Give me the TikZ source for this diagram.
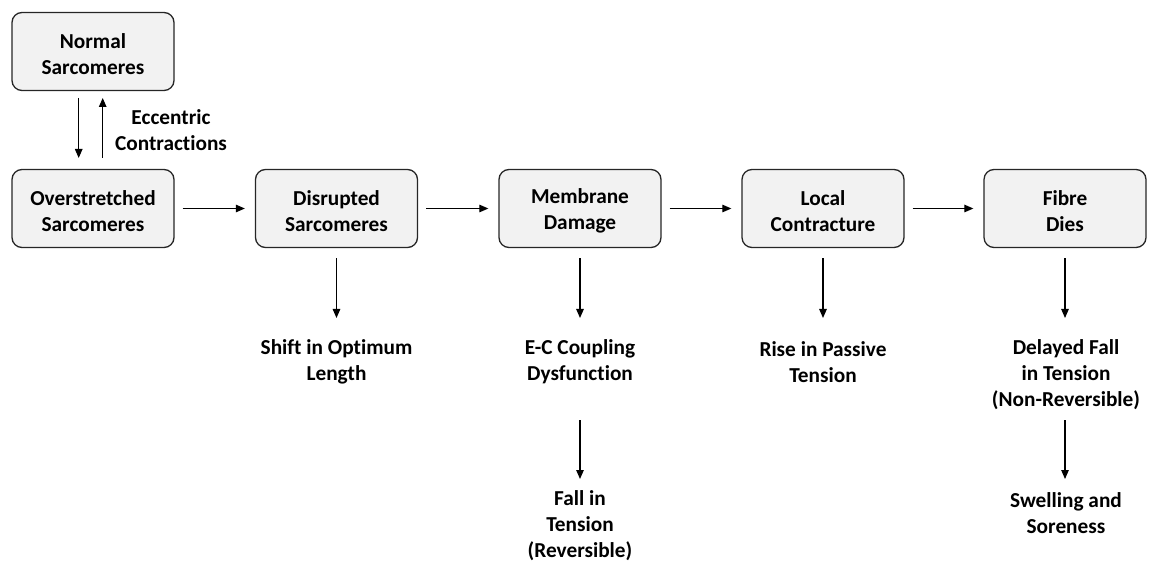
\documentclass[tikz,border=0pt]{standalone}
\usepackage{fontspec}
\setmainfont[Ligatures=NoCommon]{Carlito}
\usetikzlibrary{arrows.meta}
\begin{document}
\begin{tikzpicture}[x=1pt,y=-1pt,
  txt/.style={align=center,font=\fontsize{21.3}{26}\selectfont\bfseries},
  stage/.style={draw=black!85,line width=1.3pt,fill=black!5,rounded corners=10pt,
    minimum width=162pt,minimum height=78pt},
  inbox/.style={txt,yshift=-2.5pt},
  link/.style={line width=1.2pt,-{Triangle[length=9pt,width=7.5pt]}}]
\useasboundingbox (0,0) rectangle (1151,561);
% main chain of stages
\node[stage,label={[inbox]center:Normal\\Sarcomeres}] (normal) at (93,51.5) {};
\node[stage,label={[inbox]center:Overstretched\\Sarcomeres}] (over) at (93,208.5) {};
\node[stage,label={[inbox]center:Disrupted\\Sarcomeres}] (disr) at (336.5,208.5) {};
\node[stage,label={[inbox]center:Membrane\\Damage}] (memb) at (580,208.5) {};
\node[stage,label={[inbox]center:Local\\Contracture}] (local) at (823,208.5) {};
\node[stage,label={[inbox]center:Fibre\\Dies}] (fibre) at (1065,208.5) {};
% outcomes
\node[txt] (ecc) at (171,130) {Eccentric\\Contractions};
\node[txt] (shift) at (336.5,362) {Shift in Optimum\\Length};
\node[txt] (ec) at (580,362) {E-C Coupling\\Dysfunction};
\node[txt] (fall) at (580,526) {Fall in\\Tension\\(Reversible)};
\node[txt] (rise) at (823,362) {Rise in Passive\\Tension};
\node[txt] (delay) at (1066,375) {Delayed Fall\\in Tension\\(Non-Reversible)};
\node[txt] (swell) at (1066,513) {Swelling and\\Soreness};
% end points of the arrows
\coordinate (a1) at (78.7,98);  \coordinate (a2) at (78.7,158);
\coordinate (b1) at (102.7,158); \coordinate (b2) at (102.7,98);
\coordinate (d1) at (336.5,318);
\coordinate (d2) at (580,318);
\coordinate (d3) at (823,318);
\coordinate (d4) at (1065,318);
\coordinate (e1) at (580,420);  \coordinate (e2) at (580,479);
\coordinate (f1) at (1065,420); \coordinate (f2) at (1065,479);
% arrows
\draw[link] (a1) -- (a2);
\draw[link] (b1) -- (b2);
\draw[link] ([xshift=8pt]over.east) -- ([xshift=-10pt]disr.west);
\draw[link] ([xshift=8pt]disr.east) -- ([xshift=-10pt]memb.west);
\draw[link] ([xshift=8pt]memb.east) -- ([xshift=-10pt]local.west);
\draw[link] ([xshift=8pt]local.east) -- ([xshift=-10pt]fibre.west);
\draw[link] ([yshift=-10pt]disr.south) -- (d1);
\draw[link] ([yshift=-10pt]memb.south) -- (d2);
\draw[link] ([yshift=-10pt]local.south) -- (d3);
\draw[link] ([yshift=-10pt]fibre.south) -- (d4);
\draw[link] (e1) -- (e2);
\draw[link] (f1) -- (f2);
\end{tikzpicture}
\end{document}
